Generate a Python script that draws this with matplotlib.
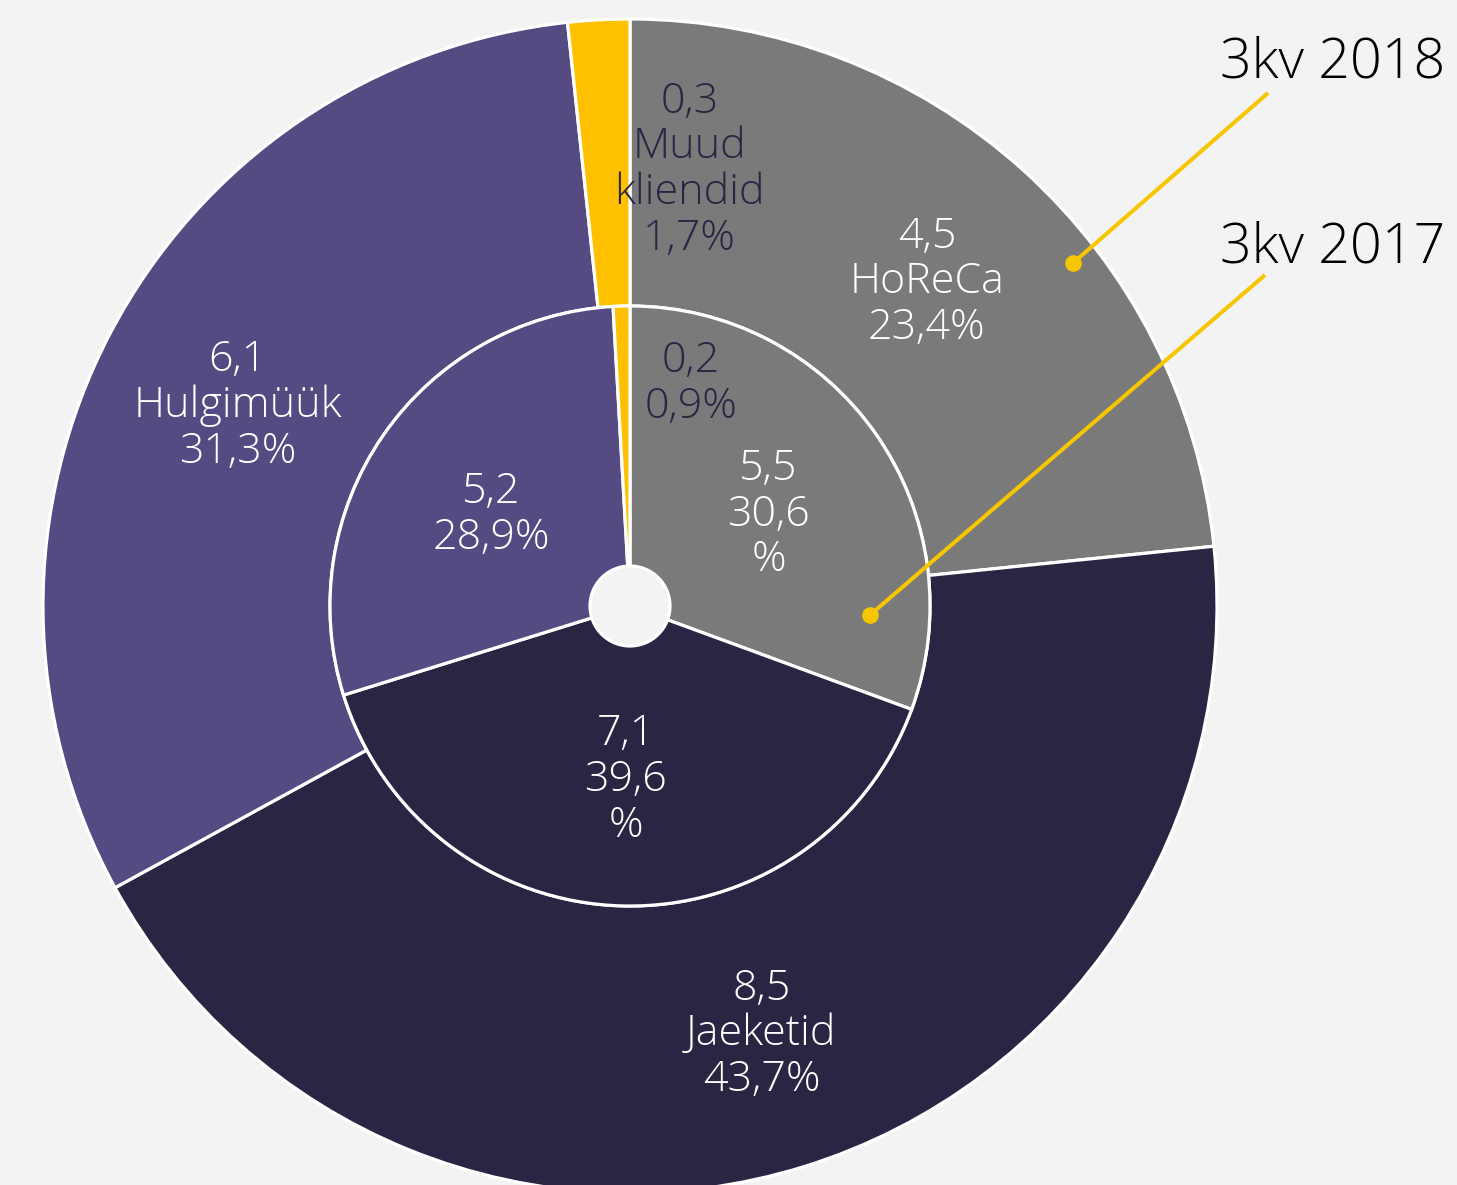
import numpy as np
import matplotlib
matplotlib.use("Agg")
from matplotlib import pyplot as plt
from matplotlib.patches import Circle

plt.rcParams["font.family"] = ["Open Sans", "DejaVu Sans"]

# data, outer ring = 3kv 2018, inner = 3kv 2017
categories = ["HoReCa", "Jaeketid", "Hulgimüük", "Muud kliendid"]
values_2018 = [4.5, 8.5, 6.1, 0.3]
shares_2018 = [23.4, 43.7, 31.3, 1.7]
values_2017 = [5.5, 7.1, 5.2, 0.2]
shares_2017 = [30.6, 39.6, 28.9, 0.9]

colors = ["#7a7a7a", "#2b2442", "#564a82", "#ffc000"]
bg = "#f3f3f3"
navy = "#2b2442"
yellow = "#f6c600"

W, H = 1457, 1185
fig = plt.figure(figsize=(W / 100, H / 100), dpi=100, facecolor=bg)
ax = fig.add_axes([0, 0, 1, 1])
ax.set_xlim(0, W)
ax.set_ylim(0, H)
ax.set_aspect("equal")
ax.axis("off")

cx, cy = 630, H - 606
R_out, R_in, R_hole = 587, 300, 40

wp = dict(edgecolor="white", linewidth=2.3)
outer, _ = ax.pie(shares_2018, radius=R_out, center=(cx, cy), colors=colors,
                  startangle=90, counterclock=False,
                  wedgeprops=dict(width=R_out - R_in, **wp))
inner, _ = ax.pie(shares_2017, radius=R_in, center=(cx, cy), colors=colors,
                  startangle=90, counterclock=False, wedgeprops=wp)
ax.add_patch(Circle((cx, cy), R_hole, facecolor=bg, edgecolor="white", lw=2.3, zorder=5))
ax.set_xlim(0, W)
ax.set_ylim(0, H)

FS = 31
LS = 1.1
DY = -5  # small downward nudge for the text blocks


def fmt(v):
    return f"{v:.1f}".replace(".", ",")


def mid(w):
    return np.deg2rad((w.theta1 + w.theta2) / 2)


# outer labels
outer_txt = [
    f"{fmt(values_2018[0])}\n{categories[0]}\n{fmt(shares_2018[0])}%",
    f"{fmt(values_2018[1])}\n{categories[1]}\n{fmt(shares_2018[1])}%",
    f"{fmt(values_2018[2])}\n{categories[2]}\n{fmt(shares_2018[2])}%",
    f"{fmt(values_2018[3])}\nMuud\nkliendid\n{fmt(shares_2018[3])}%",
]
for i, w in enumerate(outer):
    a = mid(w)
    r = 443
    x, y = cx + r * np.cos(a), cy + r * np.sin(a)
    col = "white"
    if i == 3:
        a = np.deg2rad(82.3)
        x, y = cx + 445 * np.cos(a), cy + 445 * np.sin(a)
        col = navy
    ax.text(x, y + DY, outer_txt[i], ha="center", va="center", fontsize=FS,
            color=col, linespacing=LS, zorder=6, fontweight="light")

inner_txt = [
    f"{fmt(values_2017[0])}\n{fmt(shares_2017[0])}\n%",
    f"{fmt(values_2017[1])}\n{fmt(shares_2017[1])}\n%",
    f"{fmt(values_2017[2])}\n{fmt(shares_2017[2])}%",
    f"{fmt(values_2017[3])}\n{fmt(shares_2017[3])}%",
]
for i, w in enumerate(inner):
    a = mid(w)
    r = 169
    x, y = cx + r * np.cos(a), cy + r * np.sin(a)
    col = "white"
    if i == 3:
        a = np.deg2rad(75)
        x, y = cx + 235 * np.cos(a), cy + 235 * np.sin(a)
        col = navy
    ax.text(x, y + DY, inner_txt[i], ha="center", va="center", fontsize=FS,
            color=col, linespacing=LS, zorder=6, fontweight="light")

# leader lines to series labels
for (px, py), (lx, ly), lab, (tx, ty) in [
    ((1073, 263), (1268, 93), "3kv 2018", (1333, 63)),
    ((870, 615), (1265, 275), "3kv 2017", (1333, 248)),
]:
    ax.plot([px, lx], [H - py, H - ly], color=yellow, lw=2.9, zorder=7,
            solid_capstyle="butt")
    ax.plot(px, H - py, "o", color=yellow, ms=11, zorder=8)
    ax.text(tx, H - ty, lab, ha="center", va="center", fontsize=40,
            color="black", zorder=8, fontweight="light")

fig.savefig("out.png", dpi=100, facecolor=bg)
